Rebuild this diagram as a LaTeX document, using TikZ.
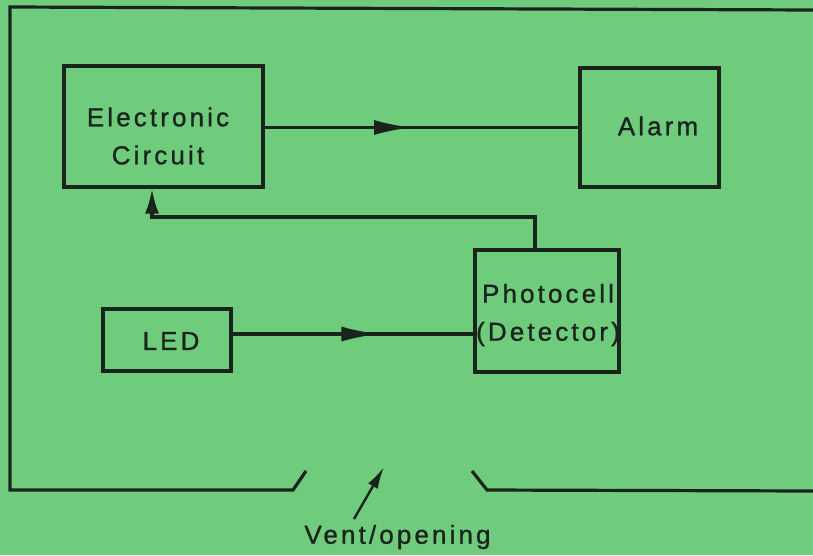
\documentclass[tikz,border=0pt]{standalone}
\usepackage{fontspec}
\setmainfont{Liberation Sans}[LetterSpace=12,FakeBold=1]
\usetikzlibrary{arrows.meta,decorations.markings}
\definecolor{bg}{RGB}{110,204,124}
\definecolor{ink}{RGB}{26,36,28}
\begin{document}
\begin{tikzpicture}[x=1pt,y=-1pt,
  box/.style={draw=ink,line width=3.2pt,rectangle,inner sep=0pt},
  lbl/.style={text=ink,align=center,inner sep=0pt,font=\fontsize{26}{38}\selectfont},
  wire/.style={draw=ink,line width=3.2pt},
  midarrow/.style={postaction={decorate},decoration={markings,mark=at position #1 with {\arrow{Latex[length=38pt,width=15pt]}}}}
]
\fill[bg] (0,0) rectangle (813,555);
\useasboundingbox (0,0) rectangle (813,555);

% boxes
\node[box,minimum width=199pt,minimum height=121pt] (ec) at (163.5,126.5) {};
\node[box,minimum width=139pt,minimum height=119pt] (al) at (649.5,127.5) {};
\node[box,minimum width=144pt,minimum height=122pt] (pc) at (547,311) {};
\node[box,minimum width=128pt,minimum height=62pt] (led) at (167,340) {};

% labels
\node[lbl] (ect) at (158,136) {Electronic\\Circuit};
\node[lbl] (alt) at (658,126) {Alarm};
\node[lbl] (pct) at (548,315) {Photocell\\(Detector)};
\node[lbl] (ledt) at (171,341) {LED};
\node[lbl] (vt) at (397.5,537) {Vent/opening};

% connectors
\draw[wire,midarrow=0.47] (ec.east |- al.west) -- (al.west);
\coordinate (ledout) at ([yshift=6pt]led.east);
\draw[wire,midarrow=0.61] (ledout) -- (pc.west |- ledout);
\coordinate (fb) at (0,217);
\coordinate (pcout) at ([xshift=-12pt]pc.north);
\coordinate (ecin) at ([xshift=-11.5pt]ec.south);
\draw[wire,-{Latex[length=25pt,width=14pt]}] (pcout) -- (pcout |- fb) -- (ecin |- fb) -- (ecin);

% enclosure with vent
\draw[wire,line join=miter] (306,471) -- (293,490) -- (10,490) -- (10,7) -- (813,10);
\draw[wire,line join=miter] (472,471) -- (487,490) -- (813,491);

% vent arrow
\coordinate (vtail) at (354,519);
\coordinate (vtip) at (384,467);
\draw[draw=ink,line width=2.4pt,-{Latex[length=22pt,width=11pt]}] (vtail) -- (vtip);
\end{tikzpicture}
\end{document}
